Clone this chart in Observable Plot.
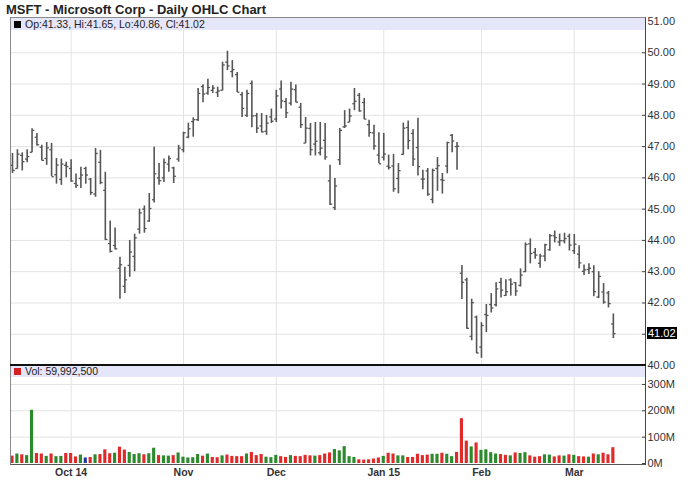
<!DOCTYPE html>
<html><head><meta charset="utf-8">
<script src="https://cdn.jsdelivr.net/npm/d3@7"></script>
<script src="https://cdn.jsdelivr.net/npm/@observablehq/plot@0.6"></script>
<style>
body{margin:0;background:#fff;font-family:"Liberation Sans",Arial,sans-serif;}
#wrap{position:relative;width:688px;height:503px;overflow:hidden;background:#fff;}
#title{position:absolute;left:6px;top:2px;font-weight:bold;font-size:13px;color:#222;white-space:nowrap;}
.band{position:absolute;left:11px;width:634px;background:#e6e6fa;font-size:10.5px;color:#222;line-height:12px;white-space:nowrap;z-index:3;}
.sq{display:inline-block;width:7px;height:7px;margin:0 4px 0 3px;vertical-align:0px;}
.abs{position:absolute;}
#frame{position:absolute;left:10px;top:17px;width:634px;height:446px;border-left:1px solid #8a8a8a;border-right:1.5px solid #444;border-top:1px solid #8a8a8a;border-bottom:1px solid #555;z-index:4;pointer-events:none;}
#sep{position:absolute;left:10px;top:364px;width:636px;height:2px;background:#111;z-index:5;}
#last{position:absolute;left:647px;background:#000;color:#fff;font-size:11px;line-height:12px;padding:0 1px;z-index:6;}
</style></head>
<body>
<div id="wrap">
  <div id="title">MSFT - Microsoft Corp - Daily OHLC Chart</div>
  <div id="p1" class="abs" style="left:0;top:17px;z-index:2"></div>
  <div id="p2" class="abs" style="left:0;top:365px;z-index:1"></div>
  <div id="band1" class="band" style="top:18px;height:12px"></div>
  <div id="band2" class="band" style="top:366px;height:11px;line-height:11px"></div>
  <div id="frame"></div>
  <div id="sep"></div>
  <div id="last"></div>
</div>
<script>
const dates = [
"2014-09-15","2014-09-16","2014-09-17","2014-09-18","2014-09-19","2014-09-22","2014-09-23","2014-09-24","2014-09-25","2014-09-26","2014-09-29","2014-09-30",
"2014-10-01","2014-10-02","2014-10-03","2014-10-06","2014-10-07","2014-10-08","2014-10-09","2014-10-10","2014-10-13","2014-10-14","2014-10-15","2014-10-16","2014-10-17","2014-10-20","2014-10-21","2014-10-22","2014-10-23","2014-10-24","2014-10-27","2014-10-28","2014-10-29","2014-10-30","2014-10-31",
"2014-11-03","2014-11-04","2014-11-05","2014-11-06","2014-11-07","2014-11-10","2014-11-11","2014-11-12","2014-11-13","2014-11-14","2014-11-17","2014-11-18","2014-11-19","2014-11-20","2014-11-21","2014-11-24","2014-11-25","2014-11-26","2014-11-28",
"2014-12-01","2014-12-02","2014-12-03","2014-12-04","2014-12-05","2014-12-08","2014-12-09","2014-12-10","2014-12-11","2014-12-12","2014-12-15","2014-12-16","2014-12-17","2014-12-18","2014-12-19","2014-12-22","2014-12-23","2014-12-24","2014-12-26","2014-12-29","2014-12-30","2014-12-31",
"2015-01-02","2015-01-05","2015-01-06","2015-01-07","2015-01-08","2015-01-09","2015-01-12","2015-01-13","2015-01-14","2015-01-15","2015-01-16","2015-01-20","2015-01-21","2015-01-22","2015-01-23","2015-01-26","2015-01-27","2015-01-28","2015-01-29","2015-01-30",
"2015-02-02","2015-02-03","2015-02-04","2015-02-05","2015-02-06","2015-02-09","2015-02-10","2015-02-11","2015-02-12","2015-02-13","2015-02-17","2015-02-18","2015-02-19","2015-02-20","2015-02-23","2015-02-24","2015-02-25","2015-02-26","2015-02-27",
"2015-03-02","2015-03-03","2015-03-04","2015-03-05","2015-03-06","2015-03-09","2015-03-10","2015-03-11","2015-03-12"];

const open = [46.40,46.30,46.72,46.60,46.82,47.30,46.98,46.62,46.90,46.10,45.95,46.40,
46.30,45.82,45.98,46.30,45.96,45.48,46.50,45.60,43.90,43.84,43.11,42.53,43.20,43.49,44.36,45.00,44.62,45.30,46.00,46.00,46.44,46.32,46.60,
46.90,47.30,47.80,47.86,48.92,48.71,48.80,48.73,48.80,49.70,49.40,49.30,48.66,48.00,49.02,47.99,47.66,47.49,47.95,
47.88,48.84,48.44,48.39,48.82,48.26,47.11,47.58,47.08,46.80,47.20,45.90,45.05,46.58,47.63,47.78,48.37,48.64,48.41,47.70,47.44,46.73,
46.66,46.37,46.38,45.98,46.75,47.61,47.42,46.97,45.96,46.22,45.31,46.30,45.94,46.38,47.36,47.00,42.95,42.74,40.93,41.55,
40.59,41.63,41.95,41.94,42.66,42.24,42.74,42.65,42.56,43.00,43.89,43.62,43.27,43.50,43.70,44.15,43.95,43.99,44.13,
43.67,43.56,43.01,43.07,43.00,42.19,42.35,42.32,41.33];
const high = [46.78,46.90,46.80,46.90,47.57,47.42,47.04,47.13,47.10,46.62,46.60,46.50,
46.58,46.12,46.34,46.34,45.98,46.94,46.88,46.18,44.62,44.40,43.46,43.14,44.00,44.20,45.00,45.10,45.50,46.98,46.46,46.60,46.70,46.34,47.04,
47.46,47.75,47.92,48.86,48.98,49.15,48.95,48.90,49.70,50.05,49.75,49.37,48.73,48.80,49.10,48.06,48.06,48.00,48.20,
48.80,49.10,48.54,49.06,48.97,48.38,47.93,47.74,47.77,47.77,47.74,46.40,45.98,47.58,48.15,48.20,48.86,48.70,48.54,47.84,47.68,47.44,
47.42,46.73,46.75,46.46,47.75,47.82,47.54,47.91,46.24,46.30,46.28,46.65,46.14,47.14,47.39,47.13,43.20,42.79,42.12,41.58,
41.37,41.95,42.30,42.65,42.79,42.74,42.77,42.65,43.09,43.92,44.05,43.74,43.56,43.88,44.19,44.30,44.20,44.23,44.20,
44.19,43.83,43.21,43.25,43.19,43.00,42.62,42.37,41.65];
const low = [46.14,46.28,46.22,46.48,46.80,47.02,46.54,46.40,46.04,45.80,45.76,46.00,
45.86,45.66,45.66,45.80,45.44,45.38,45.78,44.00,43.60,43.70,42.12,42.30,42.82,43.00,44.20,44.23,44.58,45.20,45.76,45.85,46.18,45.82,46.50,
46.80,47.25,47.30,47.80,48.40,48.64,48.70,48.57,48.78,49.43,49.20,48.73,47.93,47.93,47.60,47.42,47.44,47.36,47.74,
47.77,48.20,47.90,48.30,48.40,47.58,47.10,46.70,46.70,46.70,46.56,45.12,44.96,46.40,47.58,47.77,48.15,48.10,47.86,47.30,46.88,46.45,
46.54,46.25,45.54,45.49,46.72,46.90,46.36,46.06,45.62,45.41,45.17,45.57,45.48,46.13,46.80,46.24,42.11,41.16,40.79,40.38,
40.23,41.05,41.68,41.87,42.16,42.21,42.22,42.21,42.51,42.97,43.25,43.40,43.11,43.32,43.65,43.92,43.81,43.89,43.66,
43.55,43.09,42.88,42.91,42.20,42.14,41.96,41.84,40.86];
const close = [46.24,46.76,46.52,46.68,47.52,47.06,46.56,46.96,46.04,46.41,46.44,46.36,
45.90,45.76,46.09,46.09,45.53,46.78,45.85,44.03,43.65,43.73,43.22,42.74,43.63,44.08,44.88,44.38,45.02,46.13,45.91,46.49,46.62,46.05,46.95,
47.44,47.57,47.86,48.70,48.68,48.89,48.87,48.78,49.61,49.58,49.46,48.74,48.22,48.70,47.98,47.59,47.47,47.75,47.81,
48.62,48.46,48.08,48.84,48.42,47.70,47.59,46.90,47.17,46.95,46.67,45.16,45.74,47.52,47.66,47.98,48.45,48.14,47.88,47.45,47.02,46.45,
46.76,46.33,45.65,46.23,47.59,47.19,46.60,46.36,45.96,45.48,46.24,46.39,45.92,47.13,47.18,47.01,42.66,41.19,42.01,40.40,
41.28,41.60,41.84,42.45,42.41,42.36,42.60,42.38,42.89,43.87,43.58,43.53,43.50,43.86,44.15,44.09,43.99,44.06,43.85,
43.88,43.28,43.06,43.11,42.36,42.85,42.03,41.98,41.02];
// volume in millions of shares
const volume = [28,36,33,30,202,38,36,27,36,26,27,38,
38,25,32,21,23,33,34,52,37,39,62,51,42,34,37,33,37,58,30,29,28,30,40,
24,21,22,34,28,36,23,22,29,32,27,26,26,36,42,30,34,24,22,
31,26,23,30,27,26,31,29,28,30,36,40,53,48,64,26,23,14,13,14,17,21,
27,39,36,29,29,23,23,35,30,32,35,35,39,35,26,42,170,85,63,78,
50,52,41,36,34,31,29,40,38,41,29,24,26,33,32,25,29,28,33,
31,26,25,24,36,33,39,33,59.9925];
const prevClose = 46.70; // close of the session before the first bar
const priceTicks = [40,41,42,43,44,45,46,47,48,49,50,51];
const volumeTicks = [0,100,200,300];
const monthLabels = ["Oct 14","Nov","Dec","Jan 15","Feb","Mar"];

const rows = dates.map((d, i) => ({
  i, date: d, open: open[i], high: high[i], low: low[i], close: close[i], volume: volume[i],
  change: close[i] - (i ? close[i - 1] : prevClose)
}));
const monthStarts = [];
rows.forEach((r, i) => { if (i > 0 && r.date.slice(0, 7) !== rows[i - 1].date.slice(0, 7)) monthStarts.push(i); });
const labelOf = new Map(monthStarts.map((m, k) => [m, monthLabels[k]]));

const xDomain = [-0.41, 129.58];
const grid = "#e3e3e3";
const barColor = "#555";
const font = "'Liberation Sans', Arial, sans-serif";

const p1 = Plot.plot({
  width: 688, height: 356,
  marginLeft: 10, marginRight: 43, marginTop: 4, marginBottom: 8,
  style: {fontFamily: font, fontSize: "11px", color: "#333", background: "transparent", overflow: "visible"},
  x: {domain: xDomain, axis: null},
  y: {domain: [40, 51]},
  marks: [
    Plot.ruleY(priceTicks.filter(t => t > 40 && t < 51), {stroke: grid, strokeWidth: 1}),
    Plot.ruleX(monthStarts, {x: d => d, y1: 40, y2: 51, stroke: grid, strokeWidth: 1}),
    Plot.ruleX(rows, {x: "i", y1: "low", y2: "high", stroke: barColor, strokeWidth: 1.6}),
    Plot.link(rows, {x1: d => d.i - 0.45, x2: "i", y1: "open", y2: "open", stroke: barColor, strokeWidth: 1.3}),
    Plot.link(rows, {x1: "i", x2: d => d.i + 0.45, y1: "close", y2: "close", stroke: barColor, strokeWidth: 1.3}),
    Plot.axisY(priceTicks, {anchor: "right", tickSize: 4, tickPadding: 2, dx: -4, stroke: "#444",
      tickFormat: d => d.toFixed(2), label: null, fill: "#333"})
  ]
});
document.getElementById("p1").appendChild(p1);

const p2 = Plot.plot({
  width: 688, height: 138,
  marginLeft: 10, marginRight: 43, marginTop: 0, marginBottom: 40,
  style: {fontFamily: font, fontSize: "11px", color: "#333", background: "transparent", overflow: "visible"},
  x: {domain: xDomain},
  y: {domain: [0, 372]},
  color: {type: "identity"},
  marks: [
    Plot.ruleY(volumeTicks.filter(t => t > 0), {stroke: grid, strokeWidth: 1}),
    Plot.ruleX(monthStarts, {x: d => d, y1: 0, y2: 372, stroke: grid, strokeWidth: 1}),
    Plot.rectY(rows, {x1: d => d.i - 0.32, x2: d => d.i + 0.32, y: "volume",
      fill: d => d.change > 0 ? "#2b8a2b" : d.change < 0 ? "#e02a2a" : "#1f3a9e"}),
    Plot.axisY(volumeTicks, {anchor: "right", tickSize: 4, tickPadding: 2, dx: -4, stroke: "#444",
      tickFormat: d => d + "M", label: null, fill: "#333"}),
    Plot.axisX(monthStarts, {anchor: "bottom", tickSize: 0, tickPadding: 5, label: null,
      tickFormat: d => labelOf.get(d), fontWeight: "bold", fontSize: 10.5, fill: "#333"})
  ]
});
document.getElementById("p2").appendChild(p2);

const last = rows[rows.length - 1];
document.getElementById("band1").innerHTML =
  `<span class="sq" style="background:#000"></span>Op:${last.open.toFixed(2)}, Hi:${last.high.toFixed(2)}, Lo:${last.low.toFixed(2)}, Cl:${last.close.toFixed(2)}`;
document.getElementById("band2").innerHTML =
  `<span class="sq" style="background:#d42020"></span>Vol: ${d3.format(",")(Math.round(last.volume * 1e6))}`;
const ly = p1.scale("y").apply(last.close);
const lastEl = document.getElementById("last");
lastEl.textContent = last.close.toFixed(2);
lastEl.style.top = (17 + ly - 6) + "px";
</script>
</body></html>
